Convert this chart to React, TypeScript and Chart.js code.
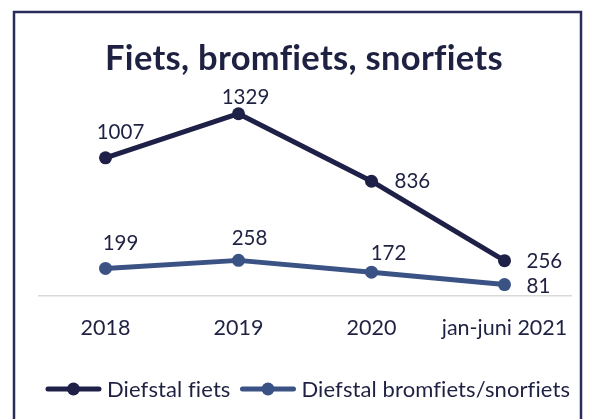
import React, { useEffect, useRef } from "react";
import { Chart, registerables } from "chart.js";

Chart.register(...registerables);

const categories = ["2018", "2019", "2020", "jan-juni 2021"];
const fietsValues = [1007, 1329, 836, 256];
const bromValues = [199, 258, 172, 81];
const seriesNames = ["Diefstal fiets", "Diefstal bromfiets/snorfiets"];
const titleText = "Fiets, bromfiets, snorfiets";

const DARK = "#1e2047";
const BLUE = "#3b5285";
const TEXT = "#1f2142";
const FRAME = "#2a2d5c";
const FONT = "Lato";

// label placement per point: [align, dx, dy(baseline offset)]
const labelPlacement: [CanvasTextAlign, number, number][][] = [
  [["center", 15, -19], ["center", 7, -10], ["left", 23, 7], ["left", 22, 7]],
  [["center", 15, -18], ["center", 11, -15], ["center", 17, -12], ["left", 22, 8]],
];

const decorPlugin = {
  id: "decor",
  beforeDraw(chart: any) {
    const ctx = chart.ctx;
    ctx.save();
    ctx.fillStyle = "#ffffff";
    ctx.fillRect(0, 0, chart.width, chart.height);
    ctx.strokeStyle = FRAME;
    ctx.lineWidth = 2.5;
    ctx.strokeRect(14, 12, 567, 500);
    ctx.fillStyle = TEXT;
    ctx.font = `bold 34.5px ${FONT}`;
    try { (ctx as any).letterSpacing = "0.3px"; } catch (e) {}
    ctx.textAlign = "center";
    ctx.textBaseline = "alphabetic";
    ctx.fillText(titleText, 304, 70);
    ctx.restore();
  },
  afterDatasetsDraw(chart: any) {
    const ctx = chart.ctx;
    ctx.save();
    ctx.font = `20.5px ${FONT}`;
    ctx.fillStyle = TEXT;
    ctx.textBaseline = "alphabetic";
    chart.data.datasets.forEach((ds: any, di: number) => {
      const meta = chart.getDatasetMeta(di);
      meta.data.forEach((pt: any, i: number) => {
        const [align, dx, dy] = labelPlacement[di][i];
        ctx.textAlign = align;
        ctx.fillText(String(ds.data[i]), pt.x + dx, pt.y + dy);
      });
    });
    // legend
    ctx.font = `22px ${FONT}`;
    try { (ctx as any).letterSpacing = "0.1px"; } catch (e) {}
    const colors = [DARK, BLUE];
    const lineLen = 55;
    const gapText = 6;
    const gapItems = 10;
    const widths = seriesNames.map((n) => ctx.measureText(n).width);
    const total = widths.reduce((a, w) => a + lineLen + gapText + w, 0) + gapItems;
    let x = 308 - total / 2;
    const y = 389;
    seriesNames.forEach((name, i) => {
      ctx.strokeStyle = colors[i];
      ctx.lineWidth = 5;
      ctx.lineCap = "round";
      ctx.beginPath();
      ctx.moveTo(x + 2, y);
      ctx.lineTo(x + lineLen - 2, y);
      ctx.stroke();
      ctx.fillStyle = colors[i];
      ctx.beginPath();
      ctx.arc(x + lineLen / 2, y, 6.5, 0, Math.PI * 2);
      ctx.fill();
      ctx.fillStyle = TEXT;
      ctx.textAlign = "left";
      ctx.textBaseline = "middle";
      ctx.fillText(name, x + lineLen + gapText, y + 1);
      x += lineLen + gapText + widths[i] + gapItems;
    });
    ctx.restore();
  },
};

export default function App() {
  const ref = useRef<HTMLCanvasElement | null>(null);
  useEffect(() => {
    document.body.style.margin = "0";
    const chart = new Chart(ref.current!, {
      type: "line",
      data: {
        labels: categories,
        datasets: [
          {
            label: seriesNames[0],
            data: fietsValues,
            borderColor: DARK,
            backgroundColor: DARK,
            borderWidth: 5,
            pointRadius: 6.5,
            pointBorderWidth: 0,
            pointBackgroundColor: DARK,
            borderJoinStyle: "round",
            borderCapStyle: "round",
          },
          {
            label: seriesNames[1],
            data: bromValues,
            borderColor: BLUE,
            backgroundColor: BLUE,
            borderWidth: 5,
            pointRadius: 6.5,
            pointBorderWidth: 0,
            pointBackgroundColor: BLUE,
            borderJoinStyle: "round",
            borderCapStyle: "round",
          },
        ],
      },
      options: {
        responsive: false,
        animation: false,
        layout: { padding: { left: 39, right: 24, top: 104, bottom: 59.5 } },
        plugins: {
          legend: { display: false },
          title: { display: false },
          tooltip: { enabled: false },
        },
        scales: {
          x: {
            offset: true,
            grid: { display: false, drawTicks: false },
            border: { display: true, color: "#d9d9d9", width: 1.5 },
            ticks: {
              color: TEXT,
              font: { family: FONT, size: 21.5 },
              padding: 19,
              maxRotation: 0,
            },
          },
          y: {
            display: false,
            min: 0,
            max: 1400,
          },
        },
      },
      plugins: [decorPlugin],
    });
    return () => chart.destroy();
  }, []);
  return (
    <div style={{ position: "absolute", left: 0, top: 0, width: 595, height: 419 }}>
      <canvas ref={ref} width={595} height={419} />
    </div>
  );
}
